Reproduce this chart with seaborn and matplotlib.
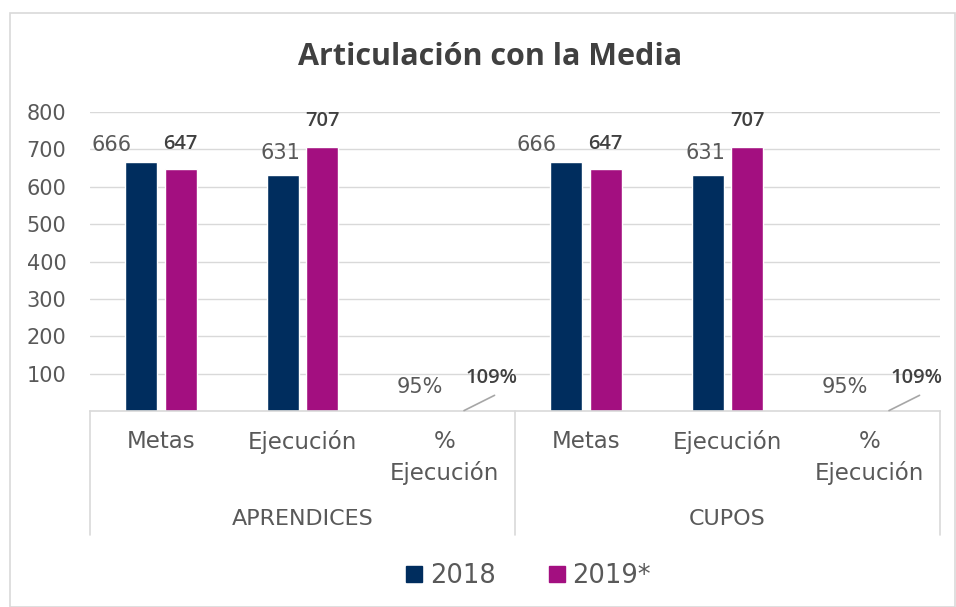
import matplotlib
matplotlib.use("Agg")
import matplotlib.pyplot as plt
import matplotlib.transforms as mtransforms
from matplotlib.lines import Line2D
from matplotlib.patches import Rectangle
import seaborn as sns
import pandas as pd

# ---- data ----
groups = ["APRENDICES", "CUPOS"]
categories = ["Metas", "Ejecución", "%\nEjecución"]
years = ["2018", "2019*"]
values_2018 = [666, 631, 0.95, 666, 631, 0.95]
values_2019 = [647, 707, 1.09, 647, 707, 1.09]
labels_2018 = ["666", "631", "95%", "666", "631", "95%"]
labels_2019 = ["647", "707", "109%", "647", "707", "109%"]
yticks = [100, 200, 300, 400, 500, 600, 700, 800]

colors = {"2018": "#002D5E", "2019*": "#A30F80"}

n = len(values_2018)
df = pd.DataFrame({
    "pos": list(range(n)) * 2,
    "value": values_2018 + values_2019,
    "year": ["2018"] * n + ["2019*"] * n,
})

sns.set_theme(style="white")
plt.rcParams["font.family"] = ["DejaVu Sans"]

W, H = 956, 607
fig = plt.figure(figsize=(W / 100, H / 100), dpi=100)
def fy(px):
    return 1 - px / H
def fx(px):
    return px / W

ax = fig.add_axes([fx(90), fy(411), fx(940) - fx(90), fy(112) - fy(411)])

sns.barplot(data=df, x="pos", y="value", hue="year", palette=colors,
            width=0.56, gap=0.2, ax=ax, order=list(range(n)),
            hue_order=years, saturation=1, legend=True)

GRAY = "#595959"
ax.set_ylim(0, 800)
ax.set_xlim(-0.5, n - 0.5)
ax.set_yticks(yticks)
ax.set_yticklabels([str(t) for t in yticks], color=GRAY, fontsize=15)
ax.tick_params(axis="y", length=0, pad=17)
ax.set_xticks([])
ax.set_xlabel("")
ax.set_ylabel("")
ax.yaxis.grid(True, color="#d9d9d9", linewidth=1)
ax.set_axisbelow(True)
for s in ["top", "right", "left"]:
    ax.spines[s].set_visible(False)
ax.spines["bottom"].set_color("#d9d9d9")
ax.spines["bottom"].set_linewidth(1.2)

# data labels
cont18, cont19 = ax.containers[0], ax.containers[1]
for i, bar in enumerate(cont18):
    cx = bar.get_x() + bar.get_width() / 2
    h = bar.get_height()
    k = i % 3
    off = [(-21, 5), (-1.5, 9), (-3, 10)][k]
    ax.annotate(labels_2018[i], (cx, h), xytext=off, textcoords="offset points",
                ha="center", va="bottom", color=GRAY, fontsize=15)
for i, bar in enumerate(cont19):
    cx = bar.get_x() + bar.get_width() / 2
    h = bar.get_height()
    k = i % 3
    if k < 2:
        ax.annotate(labels_2019[i], (cx, h), xytext=(0, 11), textcoords="offset points",
                    ha="center", va="bottom", color="#404040", fontsize=14.5,
                    fontweight="semibold", family="Open Sans")
    else:
        ax.annotate(labels_2019[i], (cx, h), xytext=(20, 16), textcoords="offset points",
                    ha="center", va="bottom", color="#404040", fontsize=14.5,
                    fontweight="semibold", family="Open Sans")
        ax.annotate("", xy=(cx, h), xycoords="data",
                    xytext=(22, 11), textcoords="offset points",
                    arrowprops=dict(arrowstyle="-", color="#a6a6a6", lw=1.2,
                                    shrinkA=0, shrinkB=0))

# category axis table
trans = mtransforms.blended_transform_factory(ax.transData, fig.transFigure)
for i in range(n):
    cat = categories[i % 3]
    if "\n" in cat:
        top, bottom = cat.split("\n")
        ax.text(i, fy(442), top, transform=trans, ha="center", va="center",
                color=GRAY, fontsize=16.5)
        ax.text(i, fy(473), bottom, transform=trans, ha="center", va="center",
                color=GRAY, fontsize=16.5)
    else:
        ax.text(i, fy(442), cat, transform=trans, ha="center", va="center",
                color=GRAY, fontsize=16.5)
for g, name in enumerate(groups):
    ax.text(g * 3 + 1, fy(519), name, transform=trans, ha="center", va="center",
            color=GRAY, fontsize=16)
for xv in [-0.5, 2.5, 5.5]:
    ax.add_line(Line2D([xv, xv], [fy(411), fy(535)], transform=trans, color="#d9d9d9",
                       lw=1.2, clip_on=False))

# legend
ax.get_legend().remove()
sq = [Line2D([0], [0], marker="s", linestyle="", markersize=11.5,
             markerfacecolor=colors[y], markeredgecolor=colors[y]) for y in years]
leg = fig.legend(sq, years, loc="center", bbox_to_anchor=(fx(525), fy(576)), ncol=2,
                 frameon=False, fontsize=18.5, handletextpad=0.0, columnspacing=1.8,
                 handlelength=1.2)
for t in leg.get_texts():
    t.set_color(GRAY)

# title
fig.text(fx(490), fy(57), "Articulación con la Media", ha="center", va="center",
         fontsize=22, fontweight="bold", color="#404040", family="Open Sans")

# outer frame
fig.patches.append(Rectangle((fx(10), 0), fx(955) - fx(10), fy(13), transform=fig.transFigure,
                             fill=False, edgecolor="#d9d9d9", lw=1.2))

fig.savefig("out.png", dpi=100)
